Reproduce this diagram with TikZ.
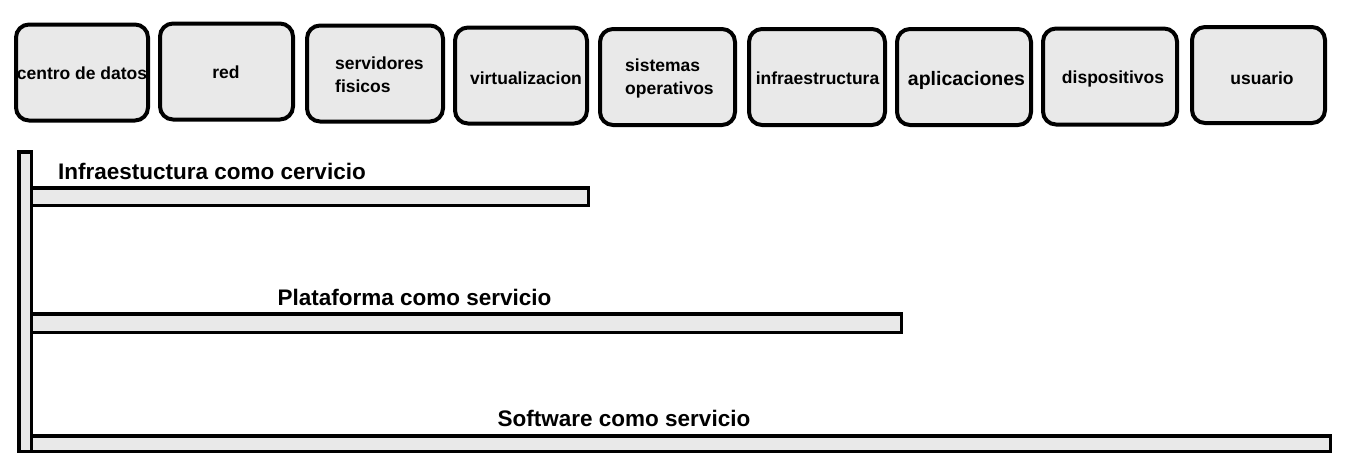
\documentclass[tikz,border=0pt]{standalone}
\usepackage{fontspec}
\setmainfont{Liberation Sans}
\definecolor{boxfill}{HTML}{E9E9E9}
\begin{document}
\begin{tikzpicture}[x=1pt,y=-1pt,
  layerbox/.style={draw=black,line width=4pt,fill=boxfill,rounded corners=13pt,
    inner sep=0pt,minimum width=#1,minimum height=96pt},
  boxtext/.style={font=\fontsize{17.5}{23}\selectfont\bfseries,inner sep=0pt,text=black},
  bartext/.style={font=\fontsize{22.5}{26}\selectfont\bfseries,inner sep=0pt,text=black},
  barshape/.style={draw=black,line width=3.5pt,fill=boxfill,inner sep=0pt}]
\useasboundingbox (0,0) rectangle (1354,453);
% top boxes
\node[layerbox=132pt] (b1) at (82,72.5) {};
\node[layerbox=133pt] (b2) at (226.5,71.5) {};
\node[layerbox=136pt] (b3) at (375,73.5) {};
\node[layerbox=132pt] (b4) at (521,75.5) {};
\node[layerbox=135pt] (b5) at (667.5,77) {};
\node[layerbox=136pt] (b6) at (817,77) {};
\node[layerbox=134pt] (b7) at (964,77) {};
\node[layerbox=134pt] (b8) at (1110,76.5) {};
\node[layerbox=133pt] (b9) at (1258.5,75) {};
\node[boxtext] (t1) at (82,73) {centro de datos};
\node[boxtext] (t2) at (226,72) {red};
\node[boxtext,align=left,anchor=west] (t3) at (335,75) {servidores\\fisicos};
\node[boxtext] (t4) at (526,78) {virtualizacion};
\node[boxtext,align=left,anchor=west] (t5) at (625,78.5) {sistemas\\operativos};
\node[boxtext] (t6) at (817.5,78) {infraestructura};
\node[boxtext,font=\fontsize{19.5}{23}\selectfont\bfseries] (t7) at (966.5,80) {aplicaciones};
\node[boxtext] (t8) at (1113,79) {dispositivos};
\node[boxtext] (t9) at (1262,78) {usuario};
% vertical bar
\path[barshape] (18.75,151.75) rectangle (31.25,451.25);
% horizontal bars
\path[barshape] (31.25,187.75) rectangle (588.25,205.25);
\path[barshape] (31.25,313.75) rectangle (901.25,332.25);
\path[barshape] (31.25,435.75) rectangle (1330.25,451.25);
\node[bartext,anchor=west] (l1) at (58,171) {Infraestuctura como cervicio};
\node[bartext] (l2) at (414.5,297) {Plataforma como servicio};
\node[bartext] (l3) at (624,418) {Software como servicio};
\end{tikzpicture}
\end{document}
